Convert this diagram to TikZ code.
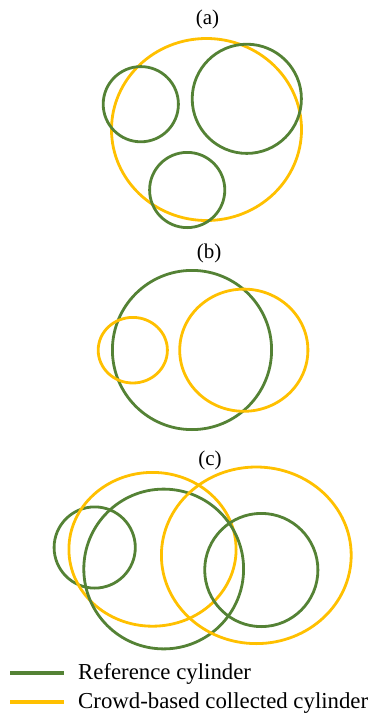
\documentclass[tikz,border=0pt]{standalone}
\usepackage{fontspec}
\setmainfont{Liberation Serif}
\usepackage{tikz}
\usetikzlibrary{positioning}
\definecolor{RefGreen}{HTML}{548235}
\definecolor{CrowdGold}{HTML}{FFC000}
\tikzset{
  refcyl/.style={draw=RefGreen, line width=2.8pt},
  crowdcyl/.style={draw=CrowdGold, line width=2.8pt},
  caselabel/.style={font=\fontsize{21}{25}\selectfont, inner sep=0pt},
  legendtext/.style={font=\fontsize{22.8}{27}\selectfont, inner sep=0pt, anchor=base west}
}

\begin{document}
\begin{tikzpicture}[x=1pt, y=-1pt]
                \useasboundingbox (0,0) rectangle (376,715);

                % Case (a): one collected cylinder around three reference cylinders
                \node[caselabel] (labA) at (207.5,19) {(a)};
                \draw[crowdcyl] (206.5,129.5) ellipse [x radius=95pt, y radius=91pt];
                \draw[refcyl] (140.8,104.2) circle [radius=37.6pt];
                \draw[refcyl] (246.8,98.8) circle [radius=54.6pt];
                \draw[refcyl] (187.2,190) circle [radius=37.6pt];

                % Case (b): two collected cylinders for one reference cylinder
                \node[caselabel] (labB) at (209,253) {(b)};
                \draw[refcyl] (192,350) circle [radius=79.6pt];
                \draw[crowdcyl] (132.8,350.2) ellipse [x radius=34.6pt, y radius=32.8pt];
                \draw[crowdcyl] (243.8,350.2) ellipse [x radius=64.1pt, y radius=61.1pt];

                % Case (c): overlapping mix
                \node[caselabel] (labC) at (210,460) {(c)};
                \draw[refcyl] (94.7,547.5) circle [radius=40.6pt];
                \draw[crowdcyl] (152.5,549.3) ellipse [x radius=83.6pt, y radius=76.9pt];
                \draw[refcyl] (163.7,569) circle [radius=79.9pt];
                \draw[crowdcyl] (256.3,555.3) ellipse [x radius=94.9pt, y radius=88.3pt];
                \draw[refcyl] (261.3,570) circle [radius=56.6pt];

                % Legend
                \coordinate (refA) at (10,672.7);
                \coordinate (refB) at (64,672.7);
                \coordinate (crowdA) at (10,701.7);
                \coordinate (crowdB) at (64,701.7);
                \draw[refcyl, line width=4pt] (refA) -- (refB);
                \draw[crowdcyl, line width=4pt] (crowdA) -- (crowdB);
                \node[legendtext] (refText) at (78,679) {Reference cylinder};
                \node[legendtext] (crowdText) at (78,708) {Crowd-based collected cylinder};
            \end{tikzpicture}
\end{document}
